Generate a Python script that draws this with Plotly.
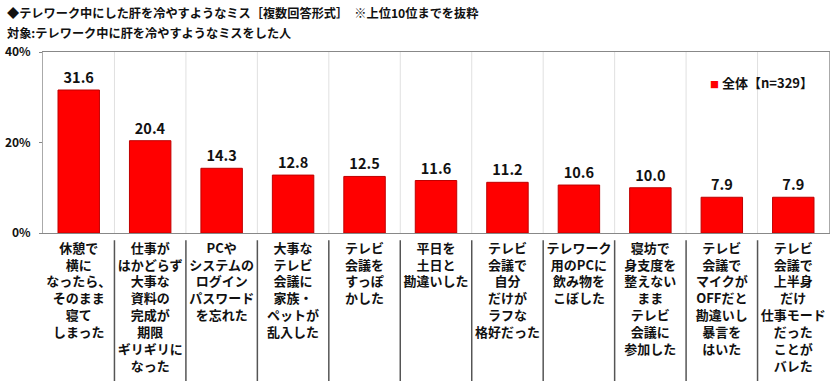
import plotly.graph_objects as go

categories = [
    "休憩で<br>横に<br>なったら、<br>そのまま<br>寝て<br>しまった",
    "仕事が<br>はかどらず<br>大事な<br>資料の<br>完成が<br>期限<br>ギリギリに<br>なった",
    "PCや<br>システムの<br>ログイン<br>パスワード<br>を忘れた",
    "大事な<br>テレビ<br>会議に<br>家族・<br>ペットが<br>乱入した",
    "テレビ<br>会議を<br>すっぽ<br>かした",
    "平日を<br>土日と<br>勘違いした",
    "テレビ<br>会議で<br>自分<br>だけが<br>ラフな<br>格好だった",
    "テレワーク<br>用のPCに<br>飲み物を<br>こぼした",
    "寝坊で<br>身支度を<br>整えない<br>まま<br>テレビ<br>会議に<br>参加した",
    "テレビ<br>会議で<br>マイクが<br>OFFだと<br>勘違いし<br>暴言を<br>はいた",
    "テレビ<br>会議で<br>上半身<br>だけ<br>仕事モード<br>だった<br>ことが<br>バレた",
]
values = [31.6, 20.4, 14.3, 12.8, 12.5, 11.6, 11.2, 10.6, 10.0, 7.9, 7.9]
series_name = "全体【n=329】"
y_ticks = [0, 20, 40]
y_tick_labels = ["0%", "20%", "40%"]
title_line1 = "◆テレワーク中にした肝を冷やすようなミス［複数回答形式］　※上位10位までを抜粋"
title_line2 = "対象:テレワーク中に肝を冷やすようなミスをした人"

FONT = "Noto Sans CJK JP"
RED = "#ff0000"
xs = list(range(len(categories)))

fig = go.Figure()
fig.add_trace(go.Bar(
    x=xs, y=values, name=series_name,
    marker=dict(color=RED, line=dict(color="#c00000", width=1)),
    width=0.58,
    text=[f"{v:.1f}" for v in values], textposition="outside",
    textfont=dict(family=FONT, size=14.5, color="#111111", weight="bold"),
    cliponaxis=False, showlegend=False,
))

shapes = []
for i in range(len(categories) - 1):
    shapes.append(dict(type="line", xref="x", yref="paper",
                       x0=i + 0.5, x1=i + 0.5, y0=-0.04, y1=-0.82,
                       line=dict(color="#555555", width=1.5)))
    shapes.append(dict(type="line", xref="x", yref="paper",
                       x0=i + 0.5, x1=i + 0.5, y0=0, y1=1,
                       line=dict(color="#e0e0e0", width=1), layer="below"))

fig.update_layout(
    width=840, height=381,
    margin=dict(l=43, r=11, t=52, b=148),
    paper_bgcolor="white", plot_bgcolor="white",
    font=dict(family=FONT, color="#111111"),
    shapes=shapes,
    showlegend=False,
    xaxis=dict(
        tickmode="array", tickvals=xs, ticktext=categories,
        range=[-0.5, len(categories) - 0.5], automargin=False,
        tickangle=0, ticks="", showgrid=False, ticklabelstandoff=3,
        tickfont=dict(family=FONT, size=13, color="#111111", weight="bold"),
        showline=True, linecolor="#888888", linewidth=1, mirror=True,
        zeroline=False,
    ),
    yaxis=dict(
        range=[0, 40], tickmode="array", tickvals=y_ticks, ticktext=y_tick_labels,
        ticks="outside", ticklen=3, tickcolor="#888888", automargin=False,
        ticklabelstandoff=6,
        showgrid=False, zeroline=False,
        showline=True, linecolor="#aaaaaa", linewidth=1, mirror=True,
        tickfont=dict(family=FONT, size=12, color="#111111", weight="bold"),
    ),
    annotations=[
        dict(text=title_line1, xref="paper", yref="paper", x=-0.048, y=1.0,
             xanchor="left", yanchor="bottom", yshift=28, showarrow=False,
             font=dict(family=FONT, size=12.2, color="#111111", weight="bold")),
        dict(text=title_line2, xref="paper", yref="paper", x=-0.048, y=1.0,
             xanchor="left", yanchor="bottom", yshift=8, showarrow=False,
             font=dict(family=FONT, size=12.2, color="#111111", weight="bold")),
        dict(text=f"<span style='color:{RED};font-size:9px'>■</span> " + series_name,
             xref="paper", yref="paper", x=0.846, y=0.83,
             xanchor="left", yanchor="middle", showarrow=False,
             font=dict(family=FONT, size=13, color="#111111", weight="bold")),
    ],
)

fig.write_html("out.html", config={"displayModeBar": False},
               post_script="document.body.style.margin='0';")
